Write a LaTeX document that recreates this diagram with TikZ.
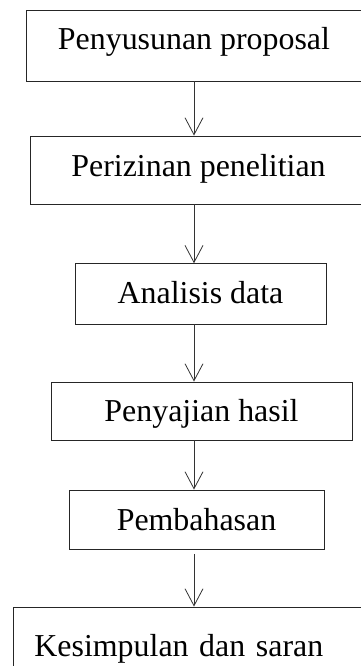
\documentclass[tikz,border=0pt]{standalone}
\usepackage{fontspec}
\setmainfont{Liberation Serif}
\usetikzlibrary{arrows.meta}
\begin{document}
\begin{tikzpicture}[x=1pt,y=-1pt,
  stepbox/.style={draw=black!85, line width=0.9pt, inner ysep=0pt, inner xsep=0pt,
    anchor=base, font=\fontsize{31.9}{38}\selectfont},
  flow/.style={draw=black!80, line width=0.8pt, -{Straight Barb[length=17pt,width=18pt,line width=0.8pt]}}]
\useasboundingbox (0,0) rectangle (361,666);
\clip (0,0) rectangle (361,666);
\coordinate (ax) at (194,0);
\node[stepbox, minimum width=336pt, text height=39.3pt, text depth=31.7pt] (b1) at (194,49.3) {Penyusunan proposal};
\node[stepbox, minimum width=337pt, text height=40.7pt, text depth=27.3pt] (b2) at (198.5,176.7) {Perizinan penelitian};
\node[stepbox, minimum width=251pt, text height=39.6pt, text depth=20.7pt] (b3) at (200.5,303.3) {Analisis data};
\node[stepbox, minimum width=301pt, text height=39pt, text depth=19pt] (b4) at (201.5,421) {Penyajian hasil};
\node[stepbox, minimum width=255pt, text height=40pt, text depth=19.3pt] (b5) at (196.5,530) {Pembahasan};
\node[stepbox, inner xsep=21pt, text width=318pt, align=left, text height=49pt, text depth=20pt, anchor=base west] (b6) at (13,656) {Kesimpulan dan saran};
\draw[flow] (b1.south -| ax) -- (b2.north -| ax);
\draw[flow] (b2.south -| ax) -- (b3.north -| ax);
\draw[flow] (b3.south -| ax) -- (b4.north -| ax);
\draw[flow] (b4.south -| ax) -- (b5.north -| ax);
\draw[flow, shorten <=4pt] (b5.south -| ax) -- (b6.north -| ax);
\end{tikzpicture}
\end{document}
